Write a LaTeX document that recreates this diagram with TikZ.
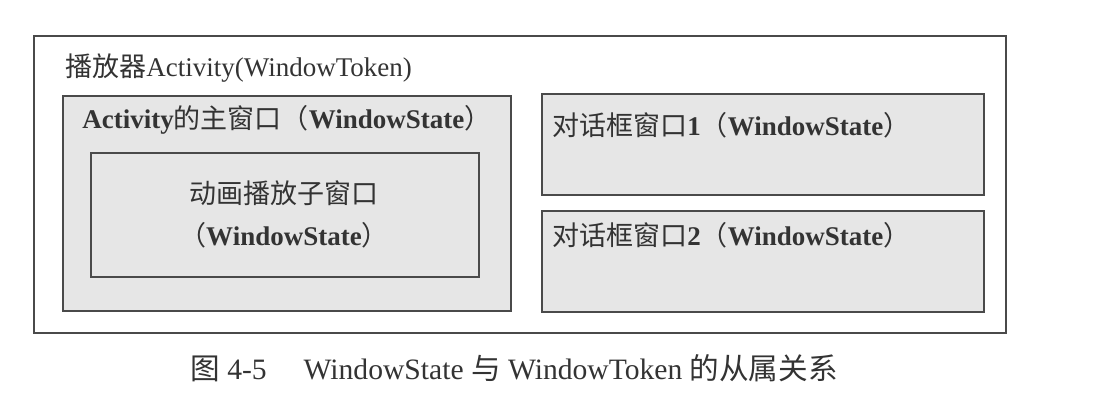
\documentclass[tikz,border=0pt]{standalone}
\usepackage{fontspec}
\setmainfont{Liberation Serif}
\newfontfamily\cjk{Noto Sans CJK SC}
\usepackage{tikz}

\definecolor{boxline}{HTML}{4A4A4A}
\definecolor{boxfill}{HTML}{E6E6E6}
\definecolor{inkgray}{HTML}{333333}

\begin{document}
\begin{tikzpicture}[x=0.5pt, y=-0.5pt,
        winbox/.style={shape=rectangle, draw=boxline, line width=1pt, fill=boxfill, anchor=north west, inner sep=0pt},
        winlabel/.style={text=inkgray, font=\fontsize{13.5}{16}\selectfont\bfseries, inner sep=0pt}]
    \useasboundingbox (0, 0) rectangle (1114, 403);
    % outer token box
    \node[shape=rectangle, draw=boxline, line width=0.75pt, fill=white, anchor=north west, inner sep=0pt,
        minimum width=486pt, minimum height=148.5pt] (token) at (33, 35) {};
    \node[text=inkgray, font=\fontsize{13.5}{16}\selectfont, inner sep=0pt, anchor=west] (tokentitle) at (65, 68)
        {{\cjk 播放器}Activity(WindowToken)};
    % main window and its child
    \node[winbox, minimum width=224pt, minimum height=107.5pt] (mainwin) at (62, 95) {};
    \node[winlabel, anchor=west] (mainlabel) at (82, 120) {Activity{\cjk\mdseries 的主窗口（}WindowState{\cjk\mdseries ）}};
    \node[winbox, minimum width=194pt, minimum height=62pt] (animwin) at (90, 152) {};
    \node[winlabel] (animlabel) at (284, 193) {\cjk\mdseries 动画播放子窗口};
    \node[winlabel] (animstate) at (284, 235) {{\cjk\mdseries （}WindowState{\cjk\mdseries ）}};
    % dialogs
    \node[winbox, minimum width=221pt, minimum height=50.5pt] (dlgone) at (541, 93) {};
    \node[winlabel, anchor=west] (dlgonelabel) at (552, 125) {{\cjk\mdseries 对话框窗口}1{\cjk\mdseries （}WindowState{\cjk\mdseries ）}};
    \node[winbox, minimum width=221pt, minimum height=50.5pt] (dlgtwo) at (541, 210) {};
    \node[winlabel, anchor=west] (dlgtwolabel) at (552, 235) {{\cjk\mdseries 对话框窗口}2{\cjk\mdseries （}WindowState{\cjk\mdseries ）}};
    % caption
    \node[text=inkgray, font=\fontsize{14.8}{17}\selectfont, inner sep=0pt] (caption) at (514, 368)
        {{\cjk 图} 4-5\quad\ WindowState {\cjk 与} WindowToken {\cjk 的从属关系}};
\end{tikzpicture}
\end{document}
